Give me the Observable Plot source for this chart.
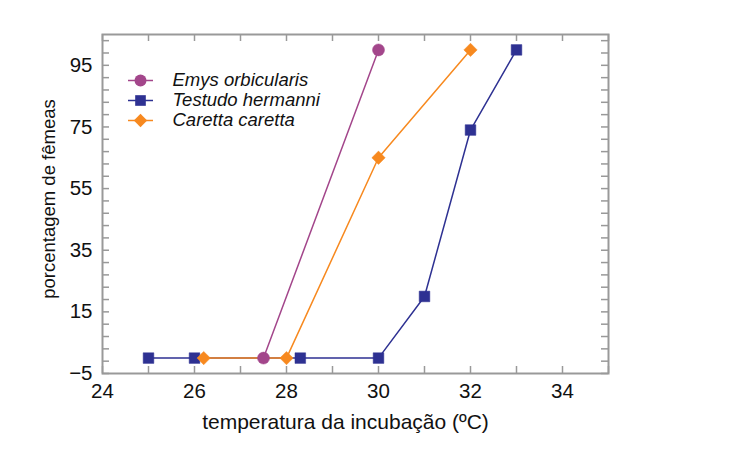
<!DOCTYPE html>
<html><head><meta charset="utf-8">
<script src="https://cdn.jsdelivr.net/npm/d3@7"></script>
<script src="https://cdn.jsdelivr.net/npm/@observablehq/plot@0.6"></script>
<style>
body{margin:0;background:#fff;font-family:"Liberation Sans",Arial,sans-serif;}
</style></head><body><div id="chart"></div>
<script>
const emysT = [27.5, 30];
const emysP = [0, 100];
const testudoT = [25, 26, 28.3, 30, 31, 32, 33];
const testudoP = [0, 0, 0, 0, 20, 74, 100];
const carettaT = [26.2, 28, 30, 32];
const carettaP = [0, 0, 65, 100];
const seriesNames = ["Emys orbicularis", "Testudo hermanni", "Caretta caretta"];
const seriesColors = ["#a3468b", "#2e3192", "#f7891f"];
const seriesSymbols = ["circle", "square", "diamond2"];
const xTickLabels = [24, 26, 28, 30, 32, 34];
const yTickLabels = [-5, 15, 35, 55, 75, 95];
const xMinor = d3.range(24, 36, 1);
const yMinor = d3.range(-5, 106, 4);

const rows = [];
[[emysT, emysP], [testudoT, testudoP], [carettaT, carettaP]].forEach(([t, p], i) => {
  t.forEach((x, j) => rows.push({s: seriesNames[i], x, y: p[j]}));
});
const legend = seriesNames.map((s, i) => ({s, i}));

const W = 756, H = 459, mL = 102, mR = 148, mT = 34, mB = 86;
const pw = W - mL - mR, ph = H - mT - mB;
const gray = "#999";
const tl = 7;
const FS = 20.5;
const fmt = d => (d < 0 ? "\u2212" + Math.abs(d) : String(d));

const chart = Plot.plot({
  width: W, height: H,
  marginLeft: mL, marginRight: mR, marginTop: mT, marginBottom: mB,
  style: {fontFamily: "Liberation Sans, Arial, sans-serif", fontSize: FS + "px", background: "white"},
  x: {domain: [24, 35], axis: null},
  y: {domain: [-5, 105], axis: null},
  color: {domain: seriesNames, range: seriesColors},
  symbol: {domain: seriesNames, range: seriesSymbols},
  marks: [
    Plot.tickX(xMinor, {x: d => d, stroke: gray, strokeWidth: 1.5, insetTop: ph - tl}),
    Plot.tickX(xMinor, {x: d => d, stroke: gray, strokeWidth: 1.5, insetBottom: ph - tl}),
    Plot.tickY(yMinor, {y: d => d, stroke: gray, strokeWidth: 1.5, insetRight: pw - tl}),
    Plot.tickY(yMinor, {y: d => d, stroke: gray, strokeWidth: 1.5, insetLeft: pw - tl}),
    Plot.frame({stroke: gray, strokeWidth: 2}),
    Plot.text(xTickLabels, {x: d => d, frameAnchor: "bottom", dy: 10, lineAnchor: "top", textAnchor: "middle", text: fmt, fontSize: FS, fill: "#111"}),
    Plot.text(yTickLabels, {y: d => d, frameAnchor: "left", dx: -10, textAnchor: "end", lineAnchor: "middle", text: fmt, fontSize: FS, fill: "#111"}),
    Plot.text(["temperatura da incubação (ºC)"], {frameAnchor: "bottom", dy: 41, dx: -10, lineAnchor: "top", textAnchor: "middle", fontSize: 21, fill: "#111", text: d => d}),
    Plot.text(["porcentagem de fêmeas"], {frameAnchor: "left", dx: -53, dy: -5, rotate: -90, textAnchor: "middle", lineAnchor: "middle", fontSize: 18.5, fill: "#111", text: d => d}),
    Plot.line(rows, {x: "x", y: "y", z: "s", stroke: "s", strokeWidth: 1.5}),
    Plot.dot(rows, {x: "x", y: "y", fill: "s", symbol: "s", r: 6, stroke: "s", strokeWidth: 0.5})
  ]
});
const leg = Plot.plot({
  width: 210, height: 70, margin: 0,
  style: {fontFamily: "Liberation Sans, Arial, sans-serif", fontSize: "19px", background: "transparent"},
  x: {domain: [0, 210], axis: null},
  y: {domain: [0, 2], axis: null, range: [11, 51]},
  color: {domain: seriesNames, range: seriesColors},
  symbol: {domain: seriesNames, range: seriesSymbols},
  marks: [
    Plot.ruleY(legend, {y: "i", x1: 0, x2: 25, stroke: "s", strokeWidth: 1.5}),
    Plot.dot(legend, {y: "i", x: 12, fill: "s", symbol: "s", r: 6}),
    Plot.text(legend, {y: "i", x: 44, text: "s", textAnchor: "start", fontSize: 18.5, fontStyle: "italic", fill: "#111"})
  ]
});
const wrap = document.getElementById("chart");
wrap.style.position = "relative";
wrap.appendChild(chart);
leg.style.position = "absolute";
leg.style.left = "128px";
leg.style.top = "69px";
wrap.appendChild(leg);
</script></body></html>
